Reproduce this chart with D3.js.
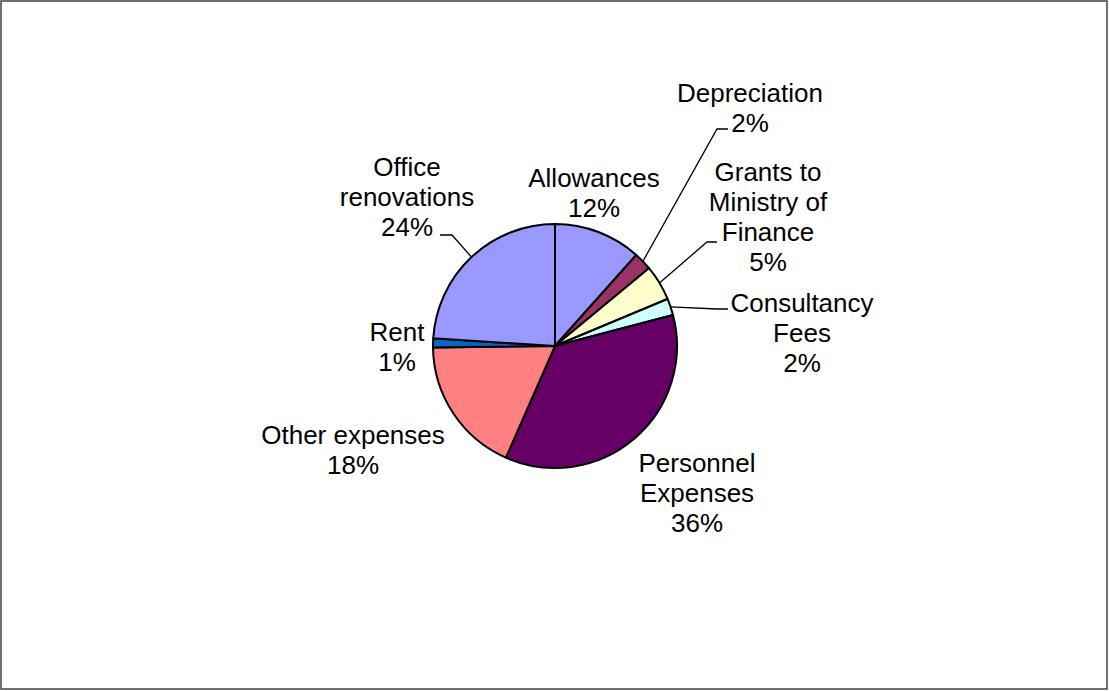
<!DOCTYPE html>
<html>
<head>
<meta charset="utf-8">
<script src="https://cdn.jsdelivr.net/npm/d3@7"></script>
<style>
  body { margin: 0; background: #fff; }
  svg { display: block; }
</style>
</head>
<body>
<div id="chart"></div>
<script>
// data (share of total, clockwise from 12 o'clock)
const categories = [
  "Allowances",
  "Depreciation",
  "Grants to\nMinistry of\nFinance",
  "Consultancy\nFees",
  "Personnel\nExpenses",
  "Other expenses",
  "Rent",
  "Office\nrenovations",
];
const values = [11.6, 2.4, 4.7, 2.2, 35.7, 18.2, 1.2, 24.0];
const colors = ["#9999FF", "#993366", "#FFFFCC", "#CCFFFF", "#660066", "#FF8080", "#0066CC", "#9999FF"];

// where Excel put each label (centre of first line) and the leader elbow, if any
const labelLayout = [
  { x: 594, y: 178 },
  { x: 750, y: 93, elbow: [717, 129], end: [728, 129] },
  { x: 768, y: 172, elbow: [707, 242], end: [717, 242] },
  { x: 802, y: 303, elbow: [717, 309], end: [728, 309] },
  { x: 697, y: 463 },
  { x: 353, y: 435 },
  { x: 397, y: 332 },
  { x: 407, y: 167, elbow: [452, 235], end: [440, 235] },
];

const width = 1109;
const height = 691;
const cx = 555, cy = 346, radius = 122;
const lineHeight = 30;

const svg = d3
  .select("#chart")
  .append("svg")
  .attr("width", width)
  .attr("height", height);

// chart frame
svg
  .append("rect")
  .attr("x", 1)
  .attr("y", 1)
  .attr("width", width - 3)
  .attr("height", height - 3)
  .attr("fill", "#fff")
  .attr("stroke", "#404040")
  .attr("stroke-width", 1.5);

const dataset = categories.map((c, i) => ({ name: c, value: values[i], color: colors[i], layout: labelLayout[i] }));
const total = d3.sum(values);

const pie = d3.pie().sort(null).value((d) => d.value);
const arc = d3.arc().innerRadius(0).outerRadius(radius);
const arcs = pie(dataset);

const g = svg.append("g").attr("transform", "translate(" + cx + "," + cy + ")");

g.selectAll("path")
  .data(arcs)
  .enter()
  .append("path")
  .attr("d", arc)
  .attr("fill", (d) => d.data.color)
  .attr("stroke", "#000")
  .attr("stroke-width", 2)
  .attr("stroke-linejoin", "round");

// leader lines from the slice edge at its mid angle
arcs
  .filter((d) => d.data.layout.elbow)
  .forEach((d) => {
    const mid = (d.startAngle + d.endAngle) / 2;
    const sx = cx + radius * Math.sin(mid);
    const sy = cy - radius * Math.cos(mid);
    const L = d.data.layout;
    svg
      .append("polyline")
      .attr("points", [[sx, sy], L.elbow, L.end].map((p) => p.join(",")).join(" "))
      .attr("fill", "none")
      .attr("stroke", "#000")
      .attr("stroke-width", 1.3);
  });

const pct = d3.format(".0%");

// labels
arcs.forEach((d) => {
  const L = d.data.layout;
  const lines = d.data.name.split("\n").concat([pct(d.data.value / total)]);
  const t = svg
    .append("text")
    .attr("text-anchor", "middle")
    .attr("font-family", "'Liberation Sans', Arial, sans-serif")
    .attr("font-size", "26px")
    .attr("fill", "#000");
  lines.forEach((ln, i) => {
    t.append("tspan")
      .attr("x", L.x)
      .attr("y", L.y + i * lineHeight)
      .attr("dy", "0.35em")
      .text(ln);
  });
});
</script>
</body>
</html>
